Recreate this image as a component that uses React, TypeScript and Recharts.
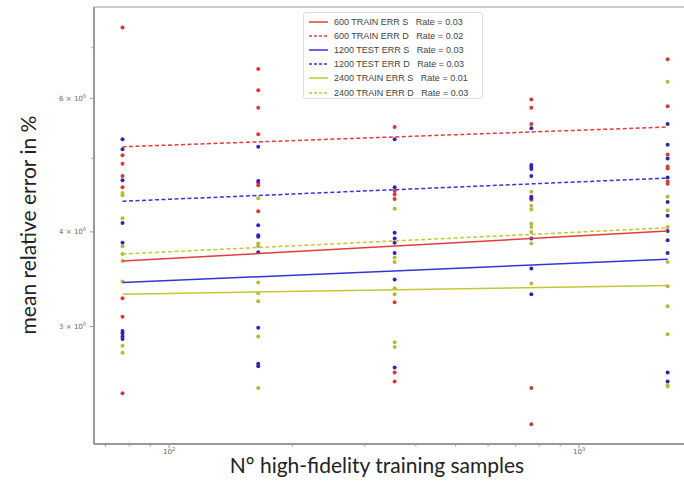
import { ScatterChart, Scatter, XAxis, YAxis, ReferenceLine } from 'recharts';

// number of high-fidelity samples (one column of points each)
const SAMPLES = [77, 165, 355, 765, 1645];

// mean relative error (%) per column, grouped by colour
const RED_PTS = [
  [7.44, 5.05, 4.92, 4.74, 4.58, 3.27, 3.09, 2.45],
  [6.56, 6.15, 5.83, 5.38, 4.64, 4.61, 4.26],
  [5.5, 4.53, 4.48, 4.42, 3.23, 2.61, 2.54],
  [5.98, 5.83, 5.55, 4.41, 2.49, 2.23],
  [6.76, 5.86, 5.06, 4.88, 4.85, 4.66, 4.63],
];
const BLUE_PTS = [
  [5.3, 5.14, 4.68, 4.11, 3.87, 2.96, 2.94, 2.91, 2.89],
  [5.18, 4.67, 4.08, 3.96, 3.94, 3.76, 2.99, 2.68, 2.66],
  [5.3, 4.58, 3.99, 3.92, 3.87, 3.75, 3.46, 2.65],
  [5.48, 4.9, 4.87, 4.84, 4.74, 4.45, 4.43, 3.92, 3.58, 3.31],
  [5.55, 5.21, 5.0, 4.72, 4.38, 4.2, 4.01, 3.9, 3.75, 2.61, 2.54],
];
const YELLOW_PTS = [
  [4.5, 4.47, 4.17, 3.83, 3.74, 3.66, 3.44, 2.83, 2.77],
  [4.43, 3.86, 3.83, 3.43, 3.32, 3.24, 2.91, 2.49],
  [4.29, 3.7, 3.65, 3.37, 3.31, 2.86, 2.82],
  [4.52, 4.33, 4.28, 4.1, 4.06, 4.0, 3.86, 3.42],
  [6.31, 4.45, 4.27, 4.06, 3.65, 3.39, 3.19, 2.93, 2.51, 2.5],
];

// fitted power-law lines (value at first and last sample)
const FIT_X = [77, 1645];
const FIT_NAMES = [
  '600 TRAIN ERR S   Rate = 0.03',
  '600 TRAIN ERR D   Rate = 0.02',
  '1200 TEST ERR S   Rate = 0.03',
  '1200 TEST ERR D   Rate = 0.03',
  '2400 TRAIN ERR S   Rate = 0.01',
  '2400 TRAIN ERR D   Rate = 0.03',
];
const FIT_VALUES = [
  [3.66, 4.01],
  [5.18, 5.5],
  [3.43, 3.68],
  [4.39, 4.71],
  [3.31, 3.4],
  [3.74, 4.05],
];

const X_TICKS = [70, 80, 90, 100, 200, 300, 400, 500, 600, 700, 800, 900, 1000];
const Y_TICKS = [3, 4, 5, 6, 7];
const X_LABELS: Record<number, string> = { 100: '2', 1000: '3' };
const Y_LABELS: Record<number, string> = { 3: '3', 4: '4', 6: '6' };

const X_DOMAIN = [65.6, 1865];
const Y_DOMAIN = [2.1, 7.92];

const LINE_STYLES = [
  { color: '#e23c3c', dash: undefined },
  { color: '#e23c3c', dash: '4 2.5' },
  { color: '#3434d8', dash: undefined },
  { color: '#3434d8', dash: '4 2.5' },
  { color: '#c6c634', dash: undefined },
  { color: '#c6c634', dash: '4 2.5' },
];
const POINT_COLORS = ['#d83a3a', '#2a2ab0', '#b8b83c'];

const toPoints = (cols: number[][]) =>
  SAMPLES.flatMap((x, i) => cols[i].map((y) => ({ x, y })));

const XTick = (props: any) => {
  const { x, y, payload } = props;
  const exp = X_LABELS[payload.value];
  return (
    <g>
      <line x1={x} x2={x} y1={y} y2={y + (exp ? 4 : 2.5)} stroke="#999" />
      {exp && (
        <text x={x} y={y + 10} textAnchor="middle" fontSize={7} fill="#666" fontFamily="DejaVu Sans">
          10<tspan dy={-3} fontSize={5}>{exp}</tspan>
        </text>
      )}
    </g>
  );
};

const YTick = (props: any) => {
  const { x, y, payload } = props;
  const m = Y_LABELS[payload.value];
  return (
    <g>
      <line x1={x - (m ? 4 : 2.5)} x2={x} y1={y} y2={y} stroke="#999" />
      {m && (
        <text x={x - 8} y={y + 2.5} textAnchor="end" fontSize={7} fill="#666" fontFamily="DejaVu Sans">
          {m} × 10<tspan dy={-3} fontSize={5}>0</tspan>
        </text>
      )}
    </g>
  );
};

const dot = (color: string) => (p: any) => <circle cx={p.cx} cy={p.cy} r={2} fill={color} />;
const noDot = () => <g />;

export default function App() {
  const groups = [RED_PTS, BLUE_PTS, YELLOW_PTS];
  return (
    <div style={{ position: 'absolute', left: 0, top: 0, width: 684, height: 496, overflow: 'hidden', background: '#fff' }}>
      <ScatterChart width={700} height={496} margin={{ top: 7, right: 10, bottom: 0, left: 0 }}>
        <XAxis
          type="number"
          dataKey="x"
          scale="log"
          domain={X_DOMAIN}
          allowDataOverflow
          ticks={X_TICKS}
          interval={0}
          tick={<XTick />}
          tickLine={false}
          tickSize={0}
          tickMargin={0}
          height={52}
          axisLine={{ stroke: '#999', strokeWidth: 2 }}
        />
        <YAxis
          type="number"
          dataKey="y"
          scale="log"
          domain={Y_DOMAIN}
          allowDataOverflow
          ticks={Y_TICKS}
          interval={0}
          tick={<YTick />}
          tickLine={false}
          tickSize={0}
          tickMargin={0}
          width={94}
          axisLine={{ stroke: '#999', strokeWidth: 2 }}
        />
        <ReferenceLine y={Y_DOMAIN[1]} stroke="#bbb" strokeWidth={1.5} />
        {groups.map((g, i) => (
          <Scatter key={'p' + i} data={toPoints(g)} shape={dot(POINT_COLORS[i])} isAnimationActive={false} />
        ))}
        {FIT_VALUES.map((v, i) => (
          <Scatter
            key={'l' + i}
            data={FIT_X.map((x, j) => ({ x, y: v[j] }))}
            shape={noDot}
            line={{ stroke: LINE_STYLES[i].color, strokeWidth: 1.5, strokeDasharray: LINE_STYLES[i].dash }}
            isAnimationActive={false}
          />
        ))}
      </ScatterChart>

      <div
        style={{
          position: 'absolute', left: 303, top: 12, width: 180, height: 87, boxSizing: 'border-box',
          border: '1px solid #ddd', borderRadius: 3, background: 'rgba(255,255,255,0.85)',
        }}
      >
        {FIT_NAMES.map((name, i) => (
          <div key={name} style={{ position: 'absolute', left: 4, top: 1.5 + i * 14.2, height: 14, display: 'flex', alignItems: 'center' }}>
            <svg width={20} height={14}>
              <line x1={1} x2={20} y1={7} y2={7} stroke={LINE_STYLES[i].color} strokeWidth={1.5} strokeDasharray={LINE_STYLES[i].dash ? '3 2' : undefined} />
            </svg>
            <span style={{ marginLeft: 6, fontFamily: 'Liberation Sans', fontSize: 9, color: '#444', whiteSpace: 'pre' }}>{name}</span>
          </div>
        ))}
      </div>

      <div style={{ position: 'absolute', left: 0, width: 754, top: 454, textAlign: 'center', fontFamily: 'Lato', fontSize: 21, lineHeight: '21px', color: '#222', whiteSpace: 'nowrap' }}>
        N° high-fidelity training samples
      </div>
      <div style={{ position: 'absolute', left: 27, top: 225, transform: 'translate(-50%, -50%) rotate(-90deg)', fontFamily: 'Lato', fontSize: 21, lineHeight: '21px', color: '#222', whiteSpace: 'nowrap' }}>
        mean relative error in %
      </div>
    </div>
  );
}
